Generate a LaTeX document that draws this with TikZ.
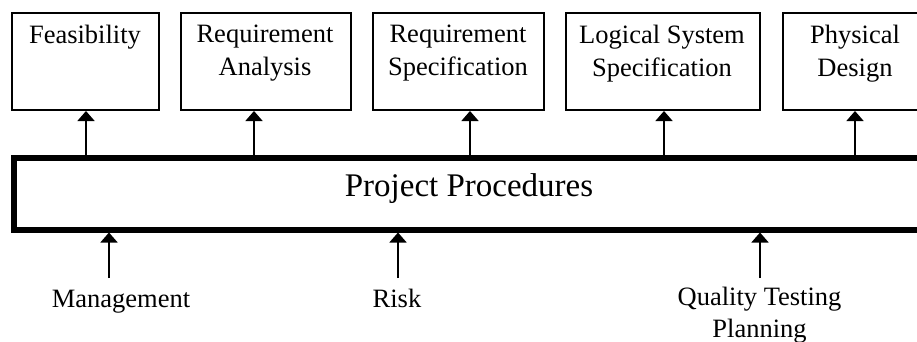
\documentclass[tikz,border=0pt]{standalone}
\usepackage{fontspec}
\setmainfont{Liberation Serif}
\usetikzlibrary{arrows.meta}
\begin{document}
\begin{tikzpicture}[x=1pt,y=-1pt,
  stagebox/.style={draw,line width=2.5pt,minimum height=97pt,inner sep=0pt,anchor=center},
  stagetext/.style={anchor=north,inner sep=0pt,align=center,font=\fontsize{26.5}{33}\selectfont},
  bottomtext/.style={anchor=base,inner sep=0pt,align=center,font=\fontsize{26.5}{32}\selectfont},
  arr/.style={line width=1.6pt,-{Triangle[width=17pt,length=10pt]}},
  procbox/.style={draw,line width=6pt,minimum width=911pt,minimum height=71.5pt,inner sep=0pt,
    font=\fontsize{33}{40}\selectfont,text height=12pt,text depth=7.5pt}]
\useasboundingbox (0,0) rectangle (917,342);
\clip (0,0) rectangle (917,342);
% stage boxes
\node[stagebox,minimum width=147pt] (b1) at (85.5,61.5) {};
\node[stagebox,minimum width=170pt] (b2) at (266,61.5) {};
\node[stagebox,minimum width=171pt] (b3) at (458.5,61.5) {};
\node[stagebox,minimum width=194pt] (b4) at (663,61.5) {};
\node[stagebox,minimum width=144pt] (b5) at (855,61.5) {};
\node[stagetext] (t1) at (85,25) {Feasibility};
\node[stagetext] (t2) at (265,25) {Requirement\\Analysis};
\node[stagetext] (t3) at (458,25) {Requirement\\Specification};
\node[stagetext] (t4) at (662,25) {Logical System\\Specification};
\node[stagetext] (t5) at (855,25) {Physical\\Design};
% project procedures
\node[procbox] (pp) at (469,193.75) {Project Procedures};
% arrows up to boxes
\draw[arr] (86,158) -- (86,111);
\draw[arr] (254,158) -- (254,111);
\draw[arr] (470,158) -- (470,111);
\draw[arr] (664,158) -- (664,111);
\draw[arr] (855,158) -- (855,111);
% bottom labels
\node[bottomtext] (m) at (121,307) {Management};
\node[bottomtext] (r) at (397,307) {Risk};
\node[bottomtext] (q) at (759.5,337) {Quality Testing\\Planning};
\coordinate (cm) at (109,278);
\coordinate (cr) at (398,278);
\coordinate (cq) at (760,278);
\draw[arr] (cm) -- (cm |- pp.south);
\draw[arr] (cr) -- (cr |- pp.south);
\draw[arr] (cq) -- (cq |- pp.south);
\end{tikzpicture}
\end{document}
